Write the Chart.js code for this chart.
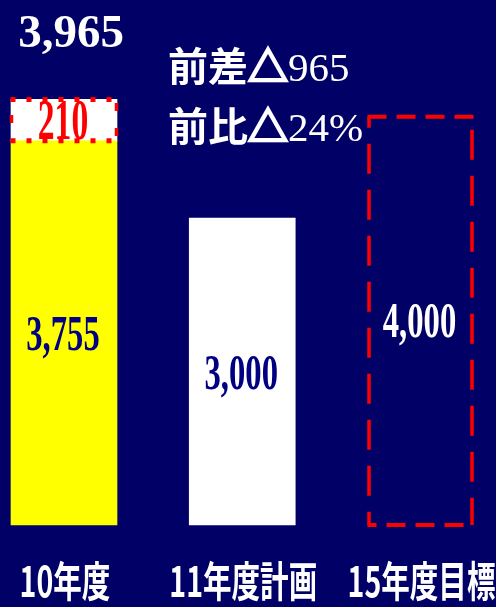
<!DOCTYPE html>
<html>
<head>
<meta charset="utf-8">
<script src="https://cdn.jsdelivr.net/npm/chart.js@4"></script>
<style>
  html, body { margin: 0; background: #000066; }
  #wrap { width: 496px; height: 607px; position: relative; }
</style>
</head>
<body>
<div id="wrap"><canvas id="salesChart"></canvas></div>
<script>
// Data
const categories = ['10年度', '11年度計画', '15年度目標'];
const baseValues = [3755, 3000, 4000];
const increaseValue = 210;
// the 210 segment is drawn taller than its value in the original picture
const increaseDrawn = [405, null, null];

const total = baseValues[0] + increaseValue;
const diff = total - baseValues[1];
const ratio = Math.round(diff / total * 100);
const fmt = (v) => v.toLocaleString('en-US');

const SERIF = '"Liberation Serif", "Times New Roman", serif';
const GOTHIC = '"Noto Sans CJK JP", sans-serif';

// Helpers
function condensedText(ctx, text, x, y, font, color, sx) {
  ctx.save();
  ctx.font = font;
  ctx.fillStyle = color;
  ctx.textAlign = 'center';
  ctx.textBaseline = 'alphabetic';
  ctx.translate(x, y);
  ctx.scale(sx, 1);
  ctx.fillText(text, 0, 0);
  ctx.restore();
}

function dashLine(ctx, x1, y1, x2, y2, dash, offset, width) {
  ctx.save();
  ctx.strokeStyle = '#ff0000';
  ctx.lineWidth = width;
  ctx.lineCap = 'butt';
  ctx.setLineDash(dash);
  ctx.lineDashOffset = offset;
  ctx.beginPath();
  ctx.moveTo(x1, y1);
  ctx.lineTo(x2, y2);
  ctx.stroke();
  ctx.restore();
}

// parts: [text, font, extra stroke width]
function mixedLine(ctx, parts, x, y) {
  ctx.save();
  ctx.fillStyle = '#ffffff';
  ctx.strokeStyle = '#ffffff';
  ctx.textAlign = 'left';
  ctx.textBaseline = 'alphabetic';
  parts.forEach(([text, font, sw]) => {
    ctx.font = font;
    ctx.fillText(text, x, y);
    if (sw) { ctx.lineWidth = sw; ctx.strokeText(text, x, y); }
    x += ctx.measureText(text).width;
  });
  ctx.restore();
}

// Borders + labels
const decorPlugin = {
  id: 'decor',
  afterDatasetsDraw(chart) {
    const ctx = chart.ctx;
    const base = chart.getDatasetMeta(0).data;
    const inc = chart.getDatasetMeta(1).data[0];

    // dashed outline on target bar
    const t = base[2].getProps(['x', 'y', 'base', 'width'], true);
    const l = t.x - t.width / 2 + 1.5, r = t.x + t.width / 2 - 1.5;
    dashLine(ctx, l - 1.5, t.y + 1, r + 1.5, t.y + 1, [19, 10], 0, 4);
    dashLine(ctx, l - 1.5, t.base, r + 1.5, t.base, [19, 10], 10, 4);
    dashLine(ctx, l, t.y + 1, l, t.base, [30, 16], 19, 3.5);
    dashLine(ctx, r, t.y + 1, r, t.base, [30, 16], 33, 3.5);

    // dotted outline on increase segment
    const s = inc.getProps(['x', 'y', 'base', 'width'], true);
    const sl = s.x - s.width / 2 + 0.5, sr = s.x + s.width / 2 - 0.5;
    dashLine(ctx, sl - 1, s.y, sr + 1, s.y, [5, 11], 0, 5);
    dashLine(ctx, sl - 1, s.base, sr + 1, s.base, [5, 11], 0, 5);
    dashLine(ctx, sl, s.y, sl, s.base, [8, 17], 9.5, 3.5);
    dashLine(ctx, sr, s.y, sr, s.base, [8, 17], 21.5, 3.5);

    // value labels inside bars
    const colors = ['#000080', '#000080', '#ffffff'];
    base.forEach((el, i) => {
      const p = el.getProps(['x', 'y', 'base'], true);
      const cy = (p.y + p.base) / 2;
      condensedText(ctx, fmt(baseValues[i]), p.x - 1, cy + 17, 'bold 51px ' + SERIF, colors[i], 0.64);
    });
    condensedText(ctx, String(increaseValue), s.x - 1, (s.y + s.base) / 2 + 18.5, 'bold 56px ' + SERIF, '#ff0000', 0.6);

    // total above first bar
    condensedText(ctx, fmt(total), s.x + 7, s.y - 52, 'bold 47px ' + SERIF, '#ffffff', 1);

    // difference notes
    mixedLine(ctx, [['前差', 'bold 40px ' + GOTHIC], ['△', 'bold 40px ' + GOTHIC, 2.5], [String(diff), '41px ' + SERIF]], 168, 81);
    mixedLine(ctx, [['前比', 'bold 40px ' + GOTHIC], ['△', 'bold 40px ' + GOTHIC, 2.5], [ratio + '%', '41px ' + SERIF]], 168, 141);

    // category labels
    base.forEach((el, i) => {
      condensedText(ctx, categories[i], el.x + 1, 597, 'bold 42px ' + GOTHIC, '#ffffff', 0.68);
    });
  }
};

const salesCtx = document.getElementById('salesChart').getContext('2d');
const salesChart = new Chart(salesCtx, {
  type: 'bar',
  data: {
    labels: categories,
    datasets: [
      {
        label: '実績',
        data: baseValues,
        backgroundColor: ['#ffff00', '#ffffff', 'rgba(0,0,0,0)'],
        borderWidth: 0,
        barThickness: 106,
        clip: false
      },
      {
        label: '増加',
        data: increaseDrawn,
        backgroundColor: '#ffffff',
        borderWidth: 0,
        barThickness: 106,
        clip: false
      }
    ]
  },
  options: {
    responsive: true,
    maintainAspectRatio: false,
    animation: false,
    layout: { padding: { left: 64, right: 75.5, top: 13.5, bottom: 82 } },
    plugins: { legend: { display: false }, tooltip: { enabled: false } },
    scales: {
      x: { display: false, offset: false, stacked: true },
      y: { display: false, min: 0, max: 5000, stacked: true }
    }
  },
  plugins: [decorPlugin]
});
</script>
</body>
</html>
